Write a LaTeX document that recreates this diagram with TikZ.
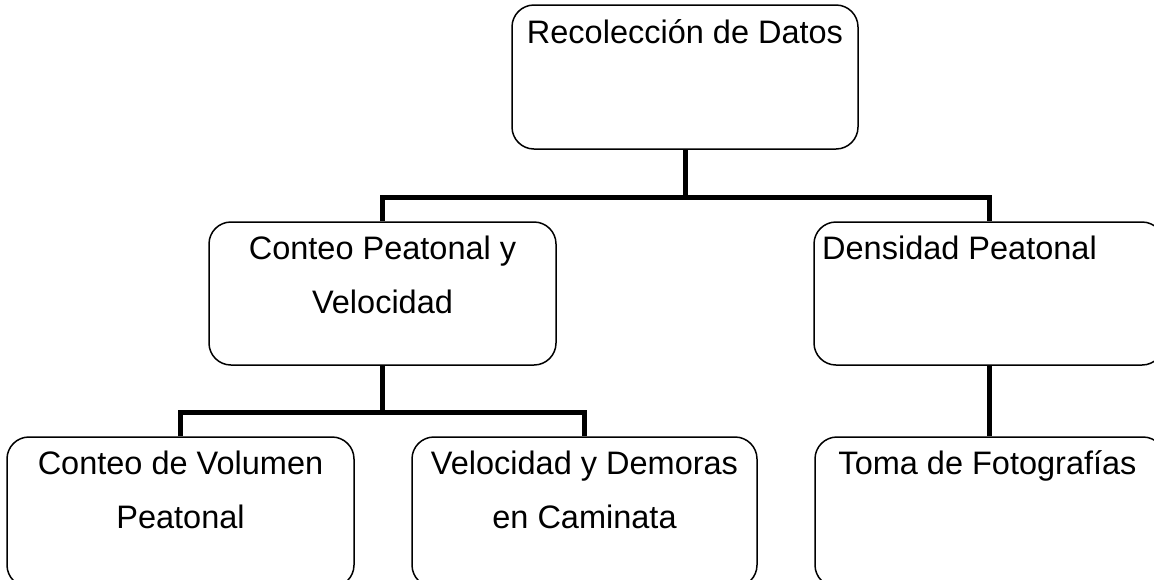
\documentclass[tikz,border=0pt]{standalone}
\usepackage{fontspec}
\setmainfont{Liberation Sans}
\begin{document}
\begin{tikzpicture}[x=1pt,y=-1pt,
  box/.style={draw=black, line width=1.5pt, rounded corners=22pt, inner sep=0pt},
  conn/.style={draw=black, line width=5pt, line join=miter},
  txt/.style={font=\fontsize{32.5}{38}\selectfont, anchor=base, inner sep=0pt}]
\clip (0,0) rectangle (1154,579);
\fill[white] (0,0) rectangle (1154,579);
% boxes
\node[box, minimum width=346pt, minimum height=144pt] (top) at (685,77) {};
\node[box, minimum width=347pt, minimum height=143pt] (midL) at (382.5,293.5) {};
\node[box, minimum width=350pt, minimum height=143pt] (midR) at (989,293.5) {};
\node[box, minimum width=347pt, minimum height=150pt] (botL) at (180.5,512) {};
\node[box, minimum width=345pt, minimum height=150pt] (botM) at (584.5,512) {};
\node[box, minimum width=350pt, minimum height=150pt] (botR) at (990,512) {};
% texts
\node[txt] (t1) at (685,43) {Recolección de Datos};
\node[txt] (t2a) at (382.5,259) {Conteo Peatonal y};
\node[txt] (t2b) at (382.5,313) {Velocidad};
\node[txt, anchor=base west] (t3) at (822,259) {Densidad Peatonal};
\node[txt] (t4a) at (180.5,474) {Conteo de Volumen};
\node[txt] (t4b) at (180.5,528) {Peatonal};
\node[txt] (t5a) at (584.5,474) {Velocidad y Demoras};
\node[txt] (t5b) at (584.5,528) {en Caminata};
\node[txt] (t6) at (987.5,474) {Toma de Fotografías};
% connectors
\coordinate (j1) at (685,197);
\coordinate (j2) at (382.5,412);
\draw[conn] (top.south) -- (j1);
\draw[conn] (midL.north) |- (j1) -| (midR.north);
\draw[conn] (midL.south) -- (j2);
\draw[conn] (botL.north) |- (j2) -| (botM.north);
\draw[conn] (midR.south) -- (midR.south |- botR.north);
\end{tikzpicture}
\end{document}
